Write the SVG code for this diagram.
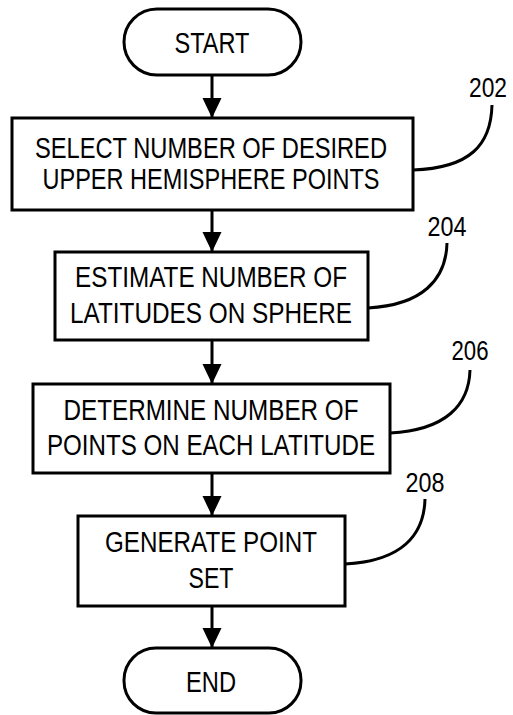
<svg xmlns="http://www.w3.org/2000/svg" width="513" height="715" viewBox="0 0 513 715">
  <defs>
    <marker id="arrow" markerUnits="userSpaceOnUse" markerWidth="20" markerHeight="21" refX="21" refY="10" orient="auto" viewBox="0 0 21 20">
      <path d="M0,0 L21,10 L0,20 z" fill="#000"/>
    </marker>
    <style>
      .shape { fill: #fff; stroke: #000; stroke-width: 3; }
      .txt { font-family: "Liberation Sans", Arial, sans-serif; font-size: 29px; fill: #000; text-anchor: middle; }
      .ref { font-family: "Liberation Sans", Arial, sans-serif; font-size: 27px; fill: #000; text-anchor: middle; }
      .flow { stroke: #000; stroke-width: 3; fill: none; marker-end: url(#arrow); }
      .leader { stroke: #000; stroke-width: 3; fill: none; }
    </style>
  </defs>

  <g id="connectors">
    <line class="flow" x1="212" y1="75" x2="212" y2="118"/>
    <line class="flow" x1="212" y1="210" x2="212" y2="252"/>
    <line class="flow" x1="212" y1="340" x2="212" y2="384"/>
    <line class="flow" x1="212" y1="473" x2="212" y2="516"/>
    <line class="flow" x1="212" y1="606" x2="212" y2="648"/>
    <path class="leader" d="M492,105 C491,145 470,168 413,170"/>
    <path class="leader" d="M447,243 C446,280 422,305 368,308"/>
    <path class="leader" d="M470,370 C469,405 446,430 390,433"/>
    <path class="leader" d="M425,499 C424,535 402,561 345,564"/>
  </g>

  <g id="start">
    <rect class="shape" x="124" y="9" width="177" height="66" rx="33" ry="33"/>
    <text class="txt" x="212" y="53" textLength="75" lengthAdjust="spacingAndGlyphs">START</text>
  </g>

  <g id="step202">
    <rect class="shape" x="12" y="118" width="401" height="92"/>
    <text class="txt" x="211" y="158" textLength="352" lengthAdjust="spacingAndGlyphs">SELECT NUMBER OF DESIRED</text>
    <text class="txt" x="211" y="189" textLength="337" lengthAdjust="spacingAndGlyphs">UPPER HEMISPHERE POINTS</text>
    <text class="ref" x="488" y="97" textLength="38" lengthAdjust="spacingAndGlyphs">202</text>
  </g>

  <g id="step204">
    <rect class="shape" x="55" y="252" width="313" height="88"/>
    <text class="txt" x="211" y="287" textLength="272" lengthAdjust="spacingAndGlyphs">ESTIMATE NUMBER OF</text>
    <text class="txt" x="211" y="323" textLength="282" lengthAdjust="spacingAndGlyphs">LATITUDES ON SPHERE</text>
    <text class="ref" x="447" y="236" textLength="39" lengthAdjust="spacingAndGlyphs">204</text>
  </g>

  <g id="step206">
    <rect class="shape" x="33" y="384" width="357" height="89"/>
    <text class="txt" x="211" y="420" textLength="295" lengthAdjust="spacingAndGlyphs">DETERMINE NUMBER OF</text>
    <text class="txt" x="211" y="455" textLength="328" lengthAdjust="spacingAndGlyphs">POINTS ON EACH LATITUDE</text>
    <text class="ref" x="470" y="360" textLength="37" lengthAdjust="spacingAndGlyphs">206</text>
  </g>

  <g id="step208">
    <rect class="shape" x="78" y="516" width="267" height="90"/>
    <text class="txt" x="211" y="552" textLength="212" lengthAdjust="spacingAndGlyphs">GENERATE POINT</text>
    <text class="txt" x="211" y="588" textLength="45" lengthAdjust="spacingAndGlyphs">SET</text>
    <text class="ref" x="425" y="492" textLength="39" lengthAdjust="spacingAndGlyphs">208</text>
  </g>

  <g id="end">
    <rect class="shape" x="124" y="648" width="177" height="65" rx="32" ry="32"/>
    <text class="txt" x="211" y="692" textLength="50" lengthAdjust="spacingAndGlyphs">END</text>
  </g>
</svg>
